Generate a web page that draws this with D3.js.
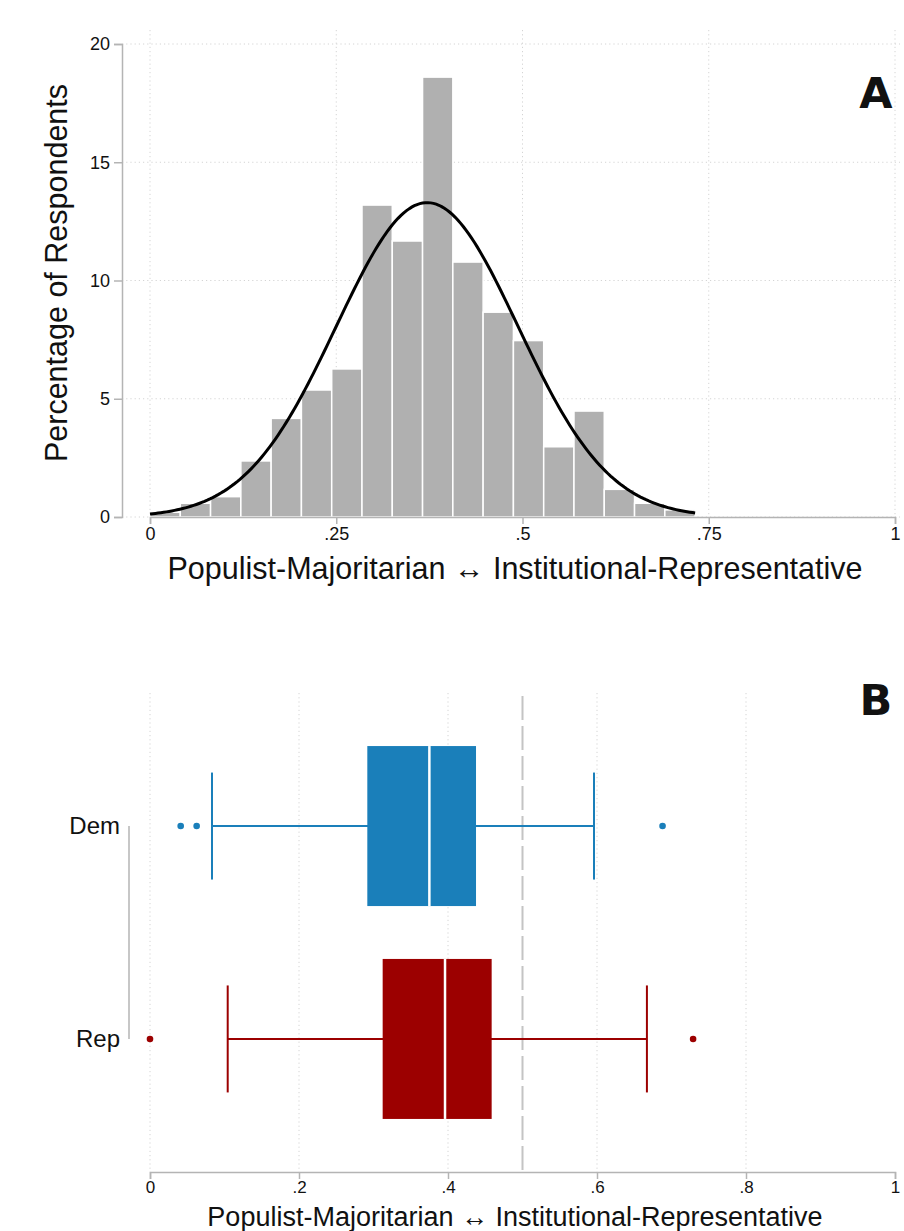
<!DOCTYPE html>
<html>
<head>
<meta charset="utf-8">
<script src="https://cdn.jsdelivr.net/npm/d3@7"></script>
<style>
  body { margin: 0; background: #fff; }
  svg text { font-family: "Liberation Sans", Arial, sans-serif; fill: #111; }
</style>
</head>
<body>
<div id="chart"></div>
<script>
// panel A: histogram (percent of respondents per bin)
var binCount = 18;
var binMax = 0.7317;
var binPercents = [0.2, 0.58, 0.86, 2.37, 4.17, 5.37, 6.26, 13.19, 11.67,
                   18.6, 10.78, 8.66, 7.46, 2.97, 4.48, 1.17, 0.58, 0.30];
var normalMean = 0.372;
var normalSd = 0.122;
var yTicksA = [0, 5, 10, 15, 20];
var xTicksA = [0, 0.25, 0.5, 0.75, 1];

// panel B: box plots
var parties = ['Dem', 'Rep'];
var boxStats = [
  { party: 'Dem', lo: 0.0832, q1: 0.2917, med: 0.375, q3: 0.4376, hi: 0.596, color: '#1a7fba' },
  { party: 'Rep', lo: 0.1043, q1: 0.3123, med: 0.396, q3: 0.4586, hi: 0.667, color: '#9c0000' }
];
var outliers = [
  { party: 'Dem', value: 0.0412 }, { party: 'Dem', value: 0.0626 }, { party: 'Dem', value: 0.688 },
  { party: 'Rep', value: 0 }, { party: 'Rep', value: 0.729 }
];
var xTicksB = [0, 0.2, 0.4, 0.6, 0.8, 1];
var refLine = 0.5;

var axisTitle = 'Populist-Majoritarian \u2194 Institutional-Representative';

var W = 904, H = 1231;
var svg = d3.select('#chart').append('svg')
  .attr('width', W)
  .attr('height', H);

var axisColor = '#b4b4b4',
    gridColor = '#d4d4d4';

// stata style labels: 0, .25, .5, 1
var fmt = function (d) { return String(+d.toFixed(2)).replace(/^0\./, '.'); };

var x = d3.scaleLinear().domain([0, 1]).range([150, 895]);

function styleAxis(g, size) {
  g.select('.domain').attr('stroke', axisColor).attr('stroke-width', 1.5);
  g.selectAll('.tick line').attr('stroke', axisColor).attr('stroke-width', 1.5);
  g.selectAll('text').style('font-size', size).attr('fill', '#111');
}

// ---------- panel A ----------
var yA = d3.scaleLinear().domain([0, 20]).range([517, 44]);
var gA = svg.append('g');

// gridlines
gA.selectAll('.hgrid')
  .data(yTicksA)
  .enter().append('line')
  .attr('x1', 122).attr('x2', 900)
  .attr('y1', function (d) { return yA(d); })
  .attr('y2', function (d) { return yA(d); })
  .attr('stroke', gridColor)
  .attr('stroke-dasharray', '1.2,3');

gA.selectAll('.vgrid')
  .data(xTicksA)
  .enter().append('line')
  .attr('x1', function (d) { return x(d); })
  .attr('x2', function (d) { return x(d); })
  .attr('y1', 30).attr('y2', 517)
  .attr('stroke', gridColor)
  .attr('stroke-dasharray', '1.2,3');

// bars
var binWidth = binMax / binCount;
gA.selectAll('.bar')
  .data(binPercents)
  .enter().append('rect')
  .attr('x', function (d, i) { return x(i * binWidth); })
  .attr('width', function (d, i) { return x((i + 1) * binWidth) - x(i * binWidth); })
  .attr('y', function (d) { return yA(d); })
  .attr('height', function (d) { return yA(0) - yA(d); })
  .attr('fill', '#b0b0b0')
  .attr('stroke', '#fff')
  .attr('stroke-width', 1.5);

// fitted normal curve (percent scale)
var curveXs = d3.range(0, binMax + 0.0001, binMax / 200);
var line = d3.line()
  .x(function (d) { return x(d); })
  .y(function (d) {
    var z = (d - normalMean) / normalSd;
    return yA(100 * binWidth * Math.exp(-0.5 * z * z) / (normalSd * Math.sqrt(2 * Math.PI)));
  });
gA.append('path')
  .datum(curveXs)
  .attr('d', line)
  .attr('fill', 'none')
  .attr('stroke', '#000')
  .attr('stroke-width', 3);

// axes
gA.append('g')
  .attr('transform', 'translate(122,0)')
  .call(d3.axisLeft(yA).tickValues(yTicksA).tickSize(8).tickPadding(4))
  .call(styleAxis, '18px');

gA.append('g')
  .attr('transform', 'translate(0,517)')
  .call(d3.axisBottom(x).tickValues(xTicksA).tickFormat(fmt).tickSize(7).tickPadding(3))
  .call(styleAxis, '18px');

gA.append('text')
  .attr('transform', 'translate(67,273) rotate(-90)')
  .attr('text-anchor', 'middle')
  .style('font-size', '30.5px')
  .text('Percentage of Respondents');

gA.append('text')
  .attr('x', 515).attr('y', 579)
  .attr('text-anchor', 'middle')
  .style('font-size', '30.5px')
  .text(axisTitle);

gA.append('text')
  .attr('x', 876).attr('y', 108)
  .attr('text-anchor', 'middle')
  .style('font-family', '"DejaVu Sans", sans-serif')
  .style('font-weight', 'bold')
  .style('font-size', '43px')
  .text('A');

// ---------- panel B ----------
var yB = d3.scalePoint().domain(parties).range([693, 1172]).padding(0.625);
var gB = svg.append('g');

gB.selectAll('.vgrid')
  .data(xTicksB.filter(function (d) { return d < 1; }))
  .enter().append('line')
  .attr('x1', function (d) { return x(d); })
  .attr('x2', function (d) { return x(d); })
  .attr('y1', 693).attr('y2', 1172)
  .attr('stroke', gridColor)
  .attr('stroke-dasharray', '1.2,3');

gB.append('line')
  .attr('x1', x(refLine)).attr('x2', x(refLine))
  .attr('y1', 696).attr('y2', 1172)
  .attr('stroke', '#c4c4c4')
  .attr('stroke-width', 2)
  .attr('stroke-dasharray', '24,6');

var boxH = 160, capH = 107;
var boxes = gB.selectAll('.box')
  .data(boxStats)
  .enter().append('g');

boxes.append('line')
  .attr('x1', function (d) { return x(d.lo); })
  .attr('x2', function (d) { return x(d.hi); })
  .attr('y1', function (d) { return yB(d.party); })
  .attr('y2', function (d) { return yB(d.party); })
  .attr('stroke', function (d) { return d.color; })
  .attr('stroke-width', 2);

['lo', 'hi'].forEach(function (k) {
  boxes.append('line')
    .attr('x1', function (d) { return x(d[k]); })
    .attr('x2', function (d) { return x(d[k]); })
    .attr('y1', function (d) { return yB(d.party) - capH / 2; })
    .attr('y2', function (d) { return yB(d.party) + capH / 2; })
    .attr('stroke', function (d) { return d.color; })
    .attr('stroke-width', 2);
});

boxes.append('rect')
  .attr('x', function (d) { return x(d.q1); })
  .attr('width', function (d) { return x(d.q3) - x(d.q1); })
  .attr('y', function (d) { return yB(d.party) - boxH / 2; })
  .attr('height', boxH)
  .attr('fill', function (d) { return d.color; });

boxes.append('line')
  .attr('x1', function (d) { return x(d.med); })
  .attr('x2', function (d) { return x(d.med); })
  .attr('y1', function (d) { return yB(d.party) - boxH / 2; })
  .attr('y2', function (d) { return yB(d.party) + boxH / 2; })
  .attr('stroke', '#fff')
  .attr('stroke-width', 2.5);

var colorOf = {};
boxStats.forEach(function (d) { colorOf[d.party] = d.color; });
gB.selectAll('.out')
  .data(outliers)
  .enter().append('circle')
  .attr('cx', function (d) { return x(d.value); })
  .attr('cy', function (d) { return yB(d.party); })
  .attr('r', 3.3)
  .attr('fill', function (d) { return colorOf[d.party]; });

// axes
gB.append('g')
  .attr('transform', 'translate(129,0)')
  .call(d3.axisLeft(yB).tickSize(0).tickPadding(9))
  .call(function (g) {
    g.select('.domain').remove();
    g.selectAll('text').style('font-size', '24px').attr('fill', '#111');
  });
gB.append('line')
  .attr('x1', 129).attr('x2', 129)
  .attr('y1', yB('Dem')).attr('y2', yB('Rep'))
  .attr('stroke', axisColor)
  .attr('stroke-width', 1.5);

gB.append('g')
  .attr('transform', 'translate(0,1172)')
  .call(d3.axisBottom(x).tickValues(xTicksB).tickFormat(fmt).tickSize(7).tickPadding(2))
  .call(styleAxis, '17px');

// bottom title sits at the page edge, kept just inside it
gB.append('text')
  .attr('x', 515).attr('y', 1225.5)
  .attr('text-anchor', 'middle')
  .style('font-size', '27px')
  .text(axisTitle);

gB.append('text')
  .attr('x', 876).attr('y', 715)
  .attr('text-anchor', 'middle')
  .style('font-family', '"DejaVu Sans", sans-serif')
  .style('font-weight', 'bold')
  .style('font-size', '43px')
  .text('B');
</script>
</body>
</html>
